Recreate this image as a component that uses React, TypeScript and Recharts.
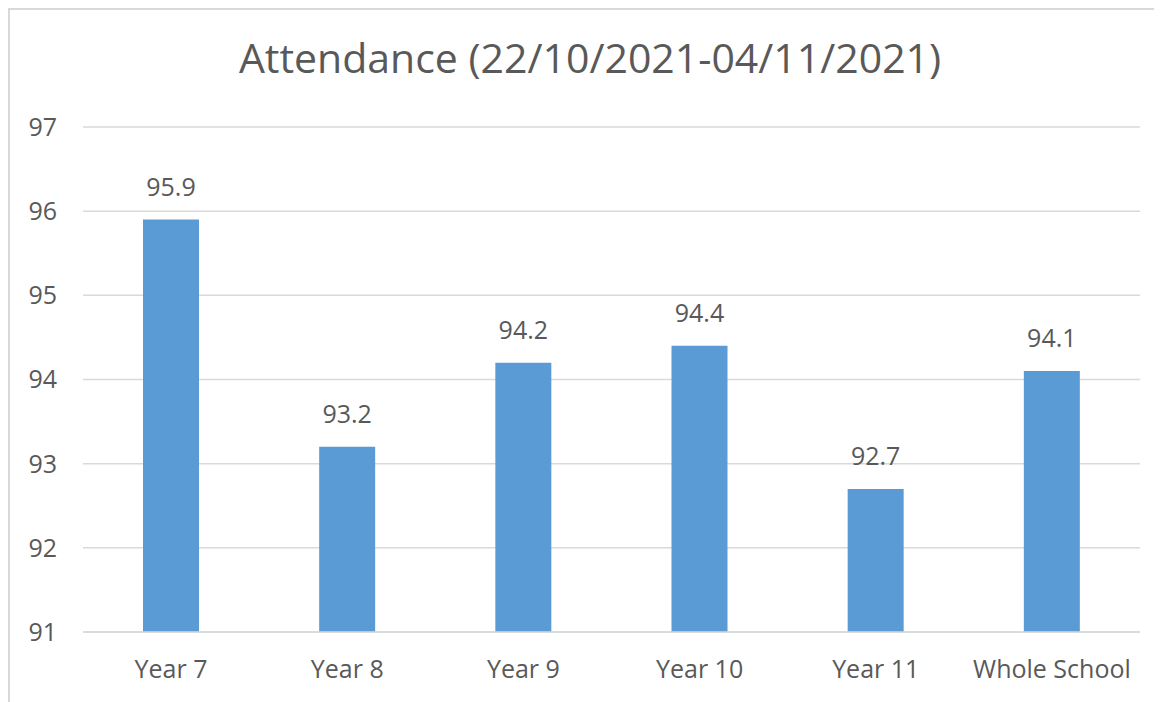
import React from 'react';
import { BarChart, Bar, XAxis, YAxis, CartesianGrid, LabelList } from 'recharts';

const categories = ['Year 7', 'Year 8', 'Year 9', 'Year 10', 'Year 11', 'Whole School'];
const attendance = [95.9, 93.2, 94.2, 94.4, 92.7, 94.1];
const yTicks = [91, 92, 93, 94, 95, 96, 97];
const title = 'Attendance (22/10/2021-04/11/2021)';

const data = categories.map((name, i) => ({ name, value: attendance[i] }));

const FONT = '"Open Sans", "Noto Sans", sans-serif';
const TEXT = '#595959';
const GRID = '#d9d9d9';

export default function App() {
  const W = 1152;
  const H = 692;
  return (
    <div
      style={{
        width: 1154,
        height: 694,
        borderTop: `2px solid ${GRID}`,
        borderLeft: `2px solid ${GRID}`,
        boxSizing: 'border-box',
        position: 'relative',
        background: '#fff',
      }}
    >
      <BarChart
        width={W}
        height={H}
        data={data}
        margin={{ top: 117, right: 22, left: 0, bottom: 0 }}
      >
        <CartesianGrid vertical={false} stroke={GRID} strokeWidth={1.5} />
        <XAxis
          dataKey="name"
          height={70}
          axisLine={{ stroke: GRID, strokeWidth: 1.5 }}
          tickLine={false}
          tickSize={0}
          tickMargin={28}
          interval={0}
          tick={{ fill: TEXT, fontSize: 25, fontFamily: FONT }}
        />
        <YAxis
          width={73}
          domain={[91, 97]}
          ticks={yTicks}
          allowDataOverflow
          axisLine={false}
          tickLine={false}
          tickSize={0}
          tickMargin={26}
          tick={{ fill: TEXT, fontSize: 25, fontFamily: FONT }}
        />
        <Bar dataKey="value" fill="#5B9BD5" barSize={56} isAnimationActive={false}>
          <LabelList
            dataKey="value"
            position="top"
            offset={24}
            fill={TEXT}
            fontSize={25}
            fontFamily={FONT}
          />
        </Bar>
      </BarChart>
      <svg
        width={W}
        height={H}
        style={{ position: 'absolute', left: 0, top: 0, pointerEvents: 'none' }}
      >
        <text
          x={580}
          y={63}
          textAnchor="middle"
          fill={TEXT}
          fontSize={41}
          fontFamily={FONT}
        >
          {title}
        </text>
      </svg>
    </div>
  );
}
